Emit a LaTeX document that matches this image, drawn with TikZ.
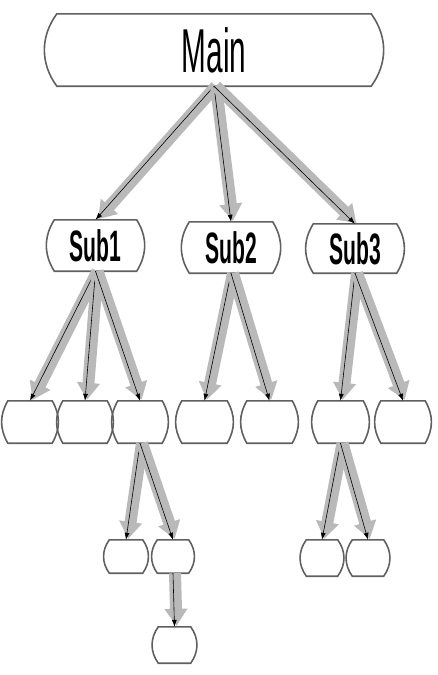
\documentclass[tikz,border=0pt]{standalone}
\usepackage{fontspec}
\newfontfamily\boxfont[FakeStretch=0.48]{Liberation Sans}
\usepackage{tikz}
\usetikzlibrary{arrows.meta}

\begin{document}
\begin{tikzpicture}[x=1pt,y=-1pt,
    box/.style={rectangle,inner sep=0pt},
    outline/.style={draw=gray!75!black,line width=1.6pt},
    halo/.style={draw=gray!55,line width=12pt,-{Triangle[length=17pt,width=22pt]},shorten >=1pt},
    link/.style={black,line width=0.6pt,-{Latex[length=7pt,width=5pt]}}]

\useasboundingbox (0,0) rectangle (437,675);

\node[box,minimum width=314pt,minimum height=72pt] (main) at (214,50) {\boxfont\fontsize{62}{62}\selectfont Main};

\node[box,minimum width=82pt,minimum height=51pt] (sub1) at (95.5,245.5) {\boxfont\bfseries\fontsize{44}{44}\selectfont Sub1};
\node[box,minimum width=83pt,minimum height=51pt] (sub2) at (231,247.5) {\boxfont\bfseries\fontsize{44}{44}\selectfont Sub2};
\node[box,minimum width=83pt,minimum height=49pt] (sub3) at (355,248.5) {\boxfont\bfseries\fontsize{44}{44}\selectfont Sub3};

\node[box,minimum width=44pt,minimum height=42pt] (leaf11) at (30,422) {};
\node[box,minimum width=44pt,minimum height=42pt] (leaf12) at (85,422) {};
\node[box,minimum width=44pt,minimum height=42pt] (leaf13) at (140,422) {};
\node[box,minimum width=45pt,minimum height=42pt] (leaf21) at (204.5,422) {};
\node[box,minimum width=45pt,minimum height=42pt] (leaf22) at (269.5,422) {};
\node[box,minimum width=45pt,minimum height=42pt] (leaf31) at (340.5,422) {};
\node[box,minimum width=44pt,minimum height=42pt] (leaf32) at (403,422) {};

\node[box,minimum width=33pt,minimum height=33pt] (leaf131) at (126,556.5) {};
\node[box,minimum width=31pt,minimum height=33pt] (leaf132) at (173,556.5) {};
\node[box,minimum width=32pt,minimum height=36pt] (leaf1321) at (174.5,645) {};
\node[box,minimum width=31pt,minimum height=36pt] (leaf311) at (322,558) {};
\node[box,minimum width=31pt,minimum height=36pt] (leaf312) at (368,558) {};

\foreach \n/\b in {main/36,sub1/32,sub2/32,sub3/32,
    leaf11/30,leaf12/30,leaf13/30,leaf21/30,leaf22/30,leaf31/30,leaf32/30,
    leaf131/36,leaf132/36,leaf1321/36,leaf311/36,leaf312/36}
  \draw[outline] (\n.north west) to[bend right=\b] (\n.south west)
    -- (\n.south east) to[bend right=\b] (\n.north east) -- cycle;

\foreach \from/\to in {main/sub1,main/sub2,main/sub3,
    sub1/leaf11,sub1/leaf12,sub1/leaf13,sub2/leaf21,sub2/leaf22,sub3/leaf31,sub3/leaf32,
    leaf13/leaf131,leaf13/leaf132,leaf132/leaf1321,leaf31/leaf311,leaf31/leaf312}
{
  \draw[halo] ([xshift=2pt]\from.south) -- ([xshift=2pt]\to.north);
  \draw[link] (\from.south) -- (\to.north);
}

\end{tikzpicture}
\end{document}
